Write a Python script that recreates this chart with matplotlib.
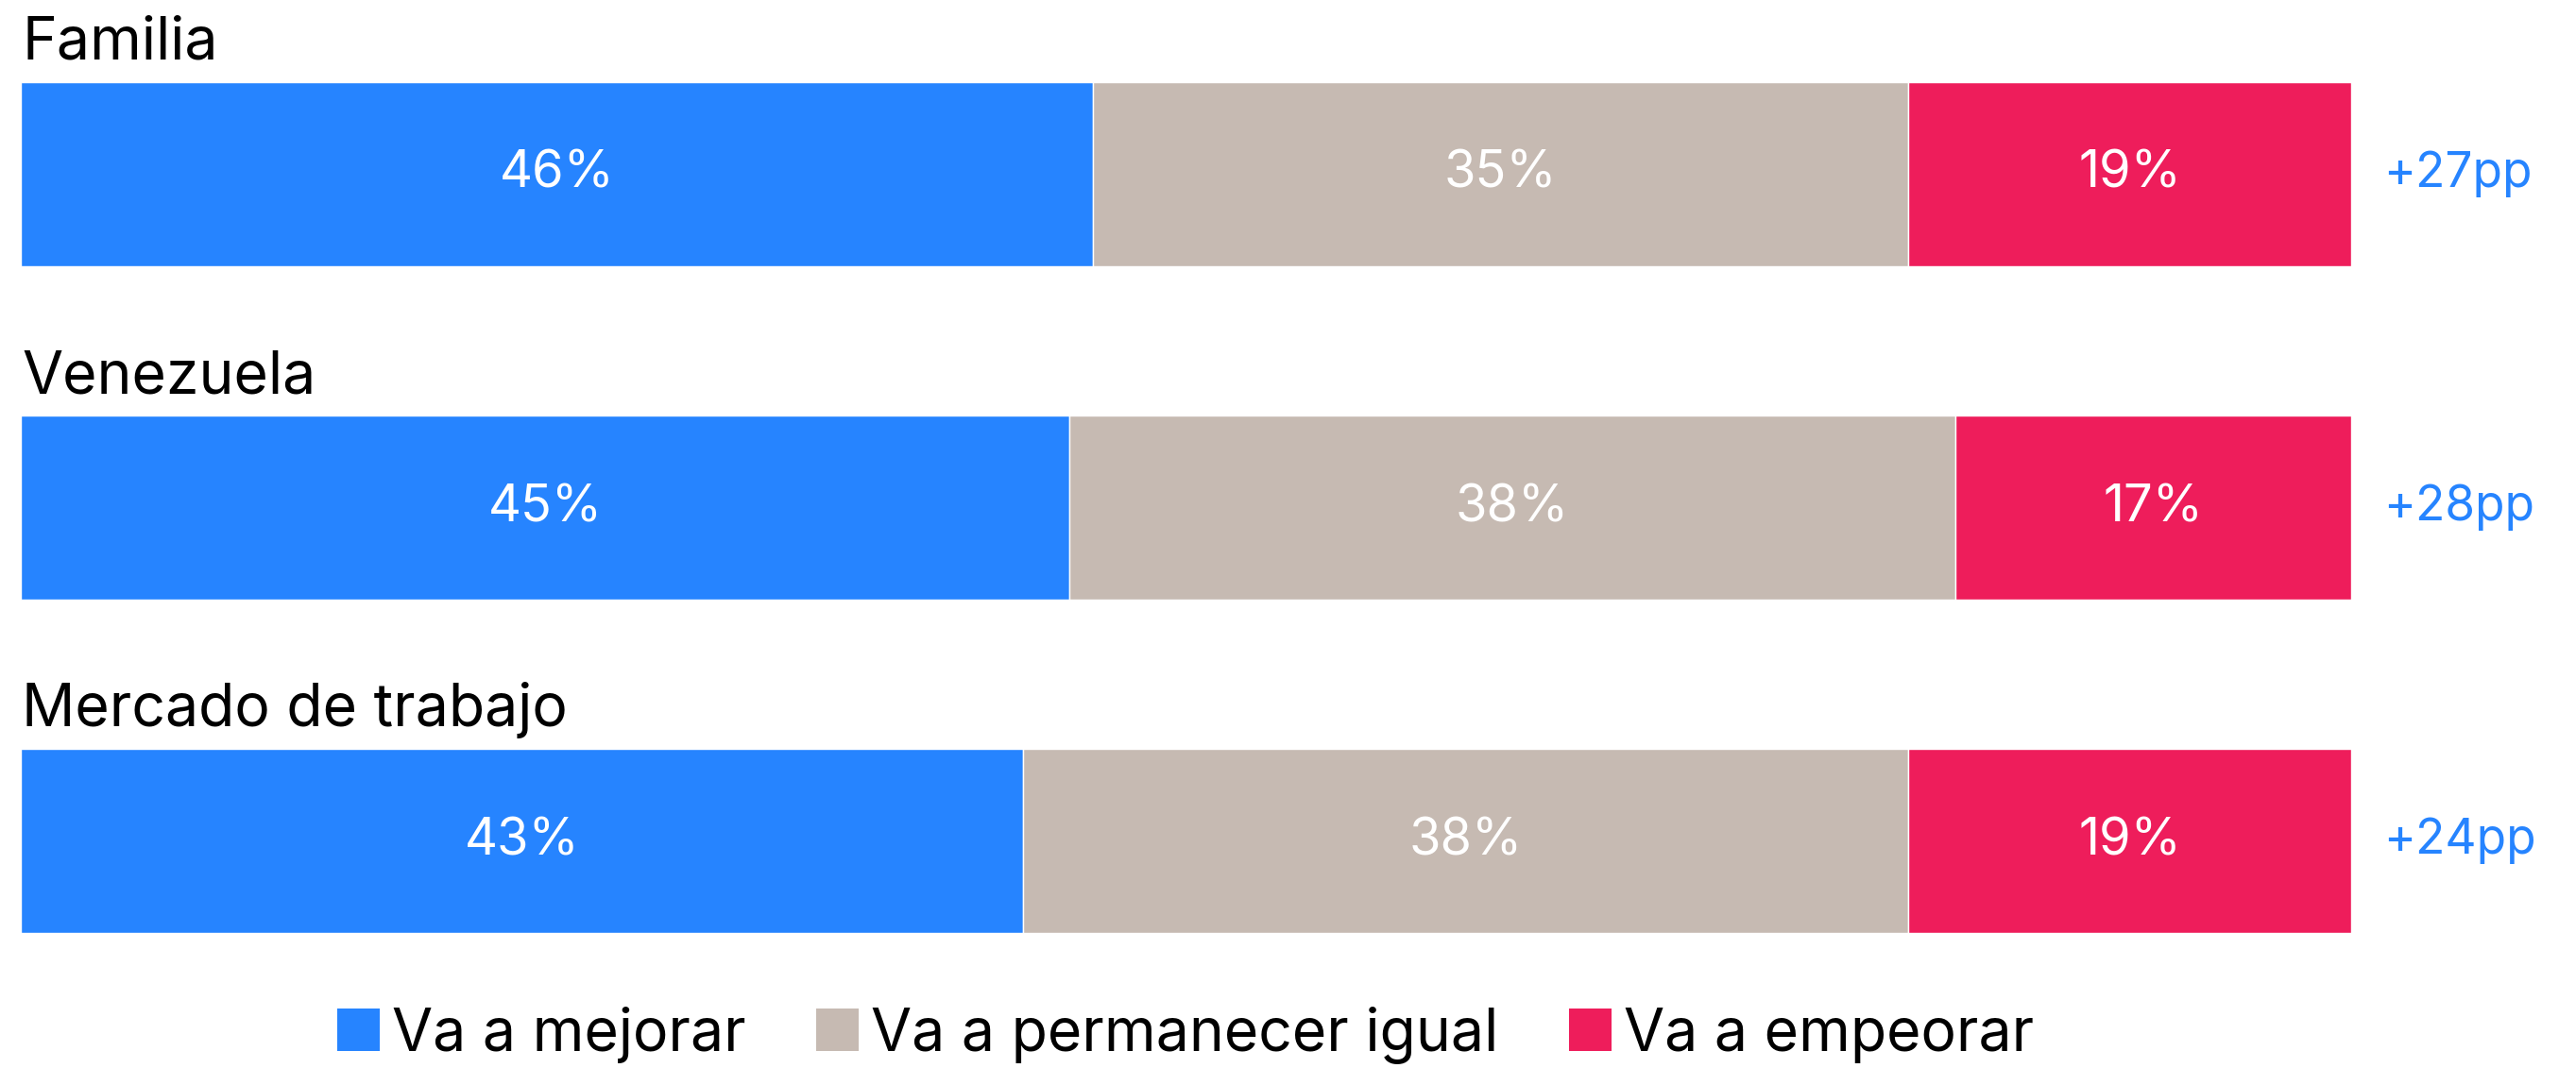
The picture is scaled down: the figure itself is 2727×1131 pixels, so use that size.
import matplotlib.pyplot as plt
from matplotlib.patches import Patch

plt.rcParams['font.family'] = ['Inter', 'DejaVu Sans']

# datos de la encuesta
categorias = ["Familia", "Venezuela", "Mercado de trabajo"]
mejorar = [46, 45, 43]
igual = [35, 38, 38]
empeorar = [19, 17, 19]
balance = ["+27pp", "+28pp", "+24pp"]
series_nombres = ["Va a mejorar", "Va a permanecer igual", "Va a empeorar"]

colores = ["#2684FF", "#C6BAB2", "#EE1D5B"]

fig = plt.figure(figsize=(27.27, 11.31), dpi=100)
ax = fig.add_axes([22 / 2727, 1 - 988 / 1131, (2489 - 22) / 2727, (988 - 87) / 1131])

alto = 0.552
y = list(range(len(categorias)))

izq = [0] * len(categorias)
for vals, color in zip([mejorar, igual, empeorar], colores):
    ax.barh(y, vals, left=izq, height=alto, color=color,
            edgecolor="white", linewidth=1)
    for i, v in enumerate(vals):
        ax.text(izq[i] + v / 2, i, f"{v}%", ha="center", va="center",
                color="white", fontsize=39)
    izq = [a + b for a, b in zip(izq, vals)]

for i, cat in enumerate(categorias):
    ax.text(0.05, i - alto / 2 - 0.068, cat, ha="left", va="baseline",
            fontsize=45, color="black")
    ax.text(101.4, i, balance[i], ha="left", va="center",
            fontsize=37, color="#2684FF")

ax.set_xlim(0, 100)
ax.set_ylim(len(categorias) - 1 + alto / 2, -alto / 2)
ax.axis("off")

handles = [Patch(facecolor=c, edgecolor="none") for c in colores]
fig.legend(handles, series_nombres, loc="center", ncol=3,
           bbox_to_anchor=(1255 / 2727, 1 - 1096 / 1131),
           frameon=False, fontsize=45, handlelength=0.72, handleheight=0.72,
           handletextpad=0.2, columnspacing=1.2)

fig.savefig("out.png", dpi=100, facecolor="white")
